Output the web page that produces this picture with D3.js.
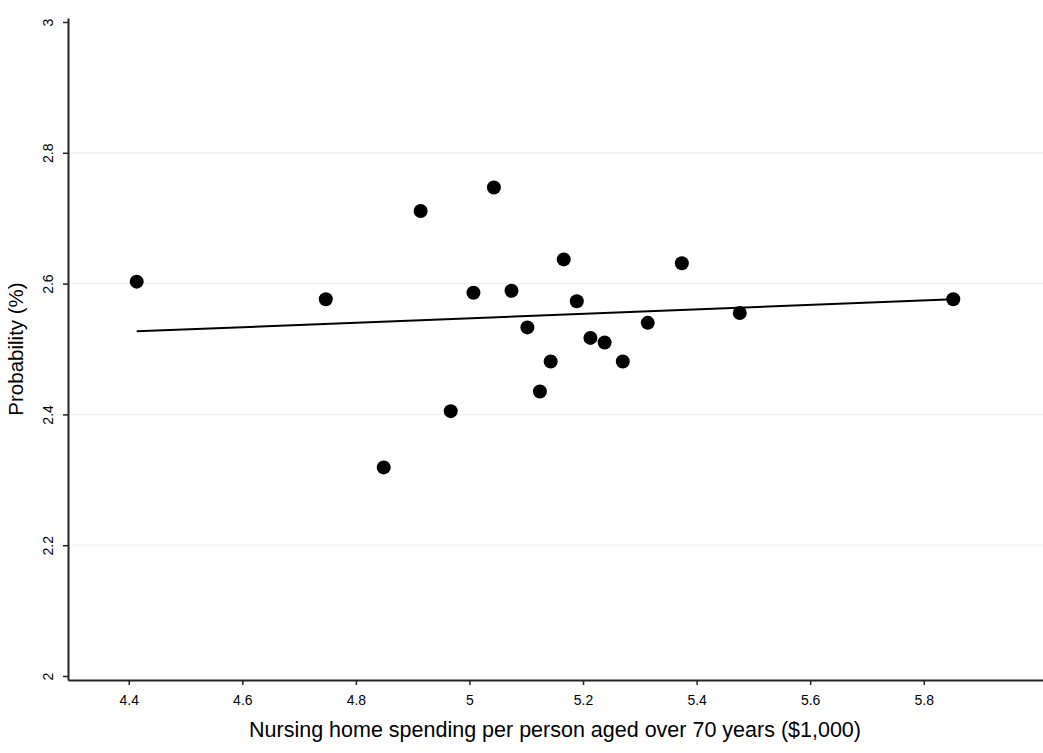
<!DOCTYPE html>
<html>
<head>
<meta charset="utf-8">
<script src="https://cdn.jsdelivr.net/npm/d3@7"></script>
<style>
    body { margin: 0; background: #fff; }
    svg { display: block; font-family: "Liberation Sans", Arial, sans-serif; }
    .tick text { fill: #000; }
</style>
</head>
<body>
<div id="chart"></div>
<script>
// spending per person aged over 70 ($1,000)
let spending = [4.414, 4.747, 4.849, 4.914, 4.967, 5.007, 5.043, 5.074, 5.102, 5.124,
                5.143, 5.166, 5.189, 5.213, 5.238, 5.270, 5.314, 5.374, 5.476, 5.852];
// probability (%)
let probability = [2.603, 2.576, 2.319, 2.711, 2.405, 2.586, 2.747, 2.589, 2.533, 2.435,
                   2.481, 2.637, 2.573, 2.517, 2.510, 2.481, 2.540, 2.631, 2.555, 2.576];
// fitted line end points
let fitX = [4.414, 5.852];
let fitY = [2.527, 2.576];

let xTicks = [4.4, 4.6, 4.8, 5, 5.2, 5.4, 5.6, 5.8];
let yTicks = [2, 2.2, 2.4, 2.6, 2.8, 3];
let yGrid = [2.2, 2.4, 2.6, 2.8];

let width = 1043, height = 753;
let font = "'Liberation Sans', Arial, sans-serif";

let svg = d3.select("#chart").append("svg")
    .attr("width", width)
    .attr("height", height);

// scales
let x = d3.scaleLinear().domain([4.293, 6.01]).range([68, 1043]);
let y = d3.scaleLinear().domain([1.9939, 3.0061]).range([680, 18]);

// grid lines
svg.append("g")
    .selectAll("line")
    .data(yGrid)
    .join("line")
    .attr("x1", 72)
    .attr("x2", width)
    .attr("y1", d => y(d))
    .attr("y2", d => y(d))
    .attr("stroke", "#eef2f2")
    .attr("stroke-width", 1.5);

// axes
let xAxis = d3.axisBottom(x).tickValues(xTicks).tickSize(5).tickSizeOuter(0).tickFormat(d3.format("~g"));
let yAxis = d3.axisLeft(y).tickValues(yTicks).tickSize(5).tickSizeOuter(0).tickFormat(d3.format("~g"));

let gx = svg.append("g")
    .attr("class", "x-axis axis")
    .attr("transform", "translate(0,680)")
    .call(xAxis)
    .attr("font-family", font);
gx.select(".domain").attr("stroke", "#222").attr("stroke-width", 2);
gx.selectAll(".tick line").attr("stroke", "#222").attr("stroke-width", 1.5);
gx.selectAll(".tick text").attr("font-size", 14).attr("dy", null).attr("y", 25);

let gy = svg.append("g")
    .attr("class", "y-axis axis")
    .attr("transform", "translate(68,0)")
    .call(yAxis)
    .attr("font-family", font);
gy.select(".domain").attr("stroke", "#222").attr("stroke-width", 2);
gy.selectAll(".tick line").attr("stroke", "#222").attr("stroke-width", 1.5);
gy.selectAll(".tick text")
    .attr("font-size", 14)
    .attr("x", null).attr("dy", null)
    .attr("text-anchor", "middle")
    .attr("transform", "translate(-15,0) rotate(-90)");

// axis titles
svg.append("text")
    .attr("x", 555)
    .attr("y", 737)
    .attr("text-anchor", "middle")
    .attr("font-size", 21.5)
    .text("Nursing home spending per person aged over 70 years ($1,000)");

svg.append("text")
    .attr("transform", "translate(23," + ((y(2) + y(3)) / 2) + ") rotate(-90)")
    .attr("text-anchor", "middle")
    .attr("font-size", 20.5)
    .text("Probability (%)");

// fitted line
let fit = fitX.map((d, i) => [d, fitY[i]]);
svg.append("path")
    .datum(fit)
    .attr("fill", "none")
    .attr("stroke", "#000")
    .attr("stroke-width", 2)
    .attr("d", d3.line().x(d => x(d[0])).y(d => y(d[1])));

// points
svg.append("g")
    .selectAll("circle")
    .data(spending.map((d, i) => [d, probability[i]]))
    .join("circle")
    .attr("cx", d => x(d[0]))
    .attr("cy", d => y(d[1]))
    .attr("r", 7)
    .attr("fill", "#000");
</script>
</body>
</html>
